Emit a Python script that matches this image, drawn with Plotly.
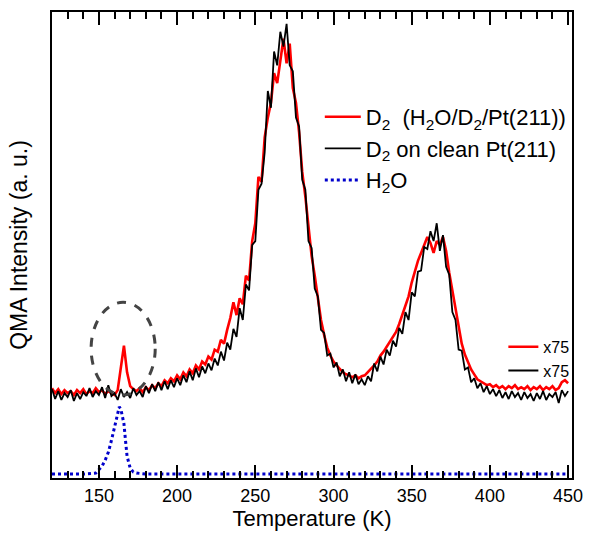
import plotly.graph_objects as go

# Temperature grid (K)
temperature = list(range(120, 452, 2))

# D2 from H2O/D2/Pt(211) (red), arbitrary units
d2_h2o = [91, 86, 90, 85, 89, 86, 88, 84, 89, 86, 90, 85, 88, 86, 91, 87, 89, 85, 88, 86,
          84, 89, 113, 134, 107, 93, 90, 88, 91, 87, 92, 89, 94, 91, 96, 93, 99, 96, 101, 98,
          104, 100, 107, 103, 110, 106, 114, 110, 118, 115, 123, 120, 130, 128, 140, 136, 150, 162, 178, 165,
          182, 176, 205, 200, 240, 258, 305, 300, 345, 365, 380, 410, 400, 425, 445, 420, 440, 395, 380, 350,
          310, 285, 255, 225, 205, 180, 160, 145, 132, 124, 118, 114, 110, 107, 105, 104, 102, 104, 101, 103,
          104, 107, 110, 114, 118, 124, 128, 133, 137, 143, 148, 156, 165, 175, 184, 198, 210, 220, 228, 236,
          244, 238, 228, 240, 236, 244, 230, 208, 190, 170, 150, 136, 125, 118, 110, 105, 100, 98, 96, 94,
          95, 92, 94, 91, 93, 90, 93, 91, 94, 90, 92, 90, 93, 89, 92, 90, 93, 89, 92, 90,
          93, 89, 91, 97, 99, 96]

# D2 on clean Pt(211) (black)
d2_clean = [90, 80, 88, 79, 86, 82, 89, 78, 86, 80, 87, 83, 91, 82, 88, 84, 92, 81, 94, 83,
            86, 79, 90, 82, 87, 81, 91, 84, 88, 82, 93, 86, 95, 88, 97, 89, 98, 90, 99, 92,
            101, 94, 104, 97, 108, 99, 111, 102, 113, 106, 116, 109, 121, 114, 128, 119, 137, 130, 151, 143,
            172, 160, 196, 190, 236, 240, 292, 298, 330, 392, 375, 432, 418, 452, 437, 460, 418, 412, 365, 356,
            302, 292, 240, 233, 192, 184, 150, 147, 124, 126, 112, 117, 103, 110, 98, 107, 96, 105, 95, 100,
            94, 103, 98, 116, 108, 123, 115, 130, 124, 139, 133, 152, 146, 168, 160, 188, 184, 209, 210, 234,
            232, 250, 240, 258, 230, 246, 214, 206, 168, 160, 130, 129, 110, 112, 97, 101, 91, 96, 87, 93,
            85, 90, 83, 89, 81, 87, 80, 88, 82, 86, 79, 87, 81, 85, 78, 86, 80, 88, 79, 85,
            82, 87, 76, 89, 83, 88]

# H2O (blue dotted)
h2o_temperature = [120, 130, 140, 148, 150, 152, 154, 156, 158, 160, 162, 163, 164, 166, 167, 168,
                   170, 172, 174, 180, 200, 250, 300, 350, 400, 450]
h2o = [4, 4, 4, 5, 8, 12, 18, 26, 38, 52, 68, 72, 70, 55, 38, 22,
       10, 6, 5, 4, 4, 4, 4, 4, 4, 4]

x_ticks = [150, 200, 250, 300, 350, 400, 450]

FONT = "Arial, Liberation Sans, sans-serif"

fig = go.Figure()
fig.add_trace(go.Scatter(x=h2o_temperature, y=h2o, mode="lines", name="H<sub>2</sub>O",
                         line=dict(color="#0000CC", width=3, dash="dot"), legendrank=3))
fig.add_trace(go.Scatter(x=temperature, y=d2_h2o, mode="lines",
                         name="D<sub>2</sub>  (H<sub>2</sub>O/D<sub>2</sub>/Pt(211))",
                         line=dict(color="#FF0000", width=2.6), legendrank=1))
fig.add_trace(go.Scatter(x=temperature, y=d2_clean, mode="lines", name="D<sub>2</sub> on clean Pt(211)",
                         line=dict(color="black", width=1.8), legendrank=2))
# scale-factor legend
fig.add_trace(go.Scatter(x=[None], y=[None], mode="lines", name="x75", legend="legend2",
                         line=dict(color="#FF0000", width=2.6), legendrank=1))
fig.add_trace(go.Scatter(x=[None], y=[None], mode="lines", name="x75", legend="legend2",
                         line=dict(color="black", width=1.8), legendrank=2))

# dashed ellipse highlighting the low-temperature feature
fig.add_shape(type="circle", xref="x", yref="y", x0=145, x1=186, y0=84, y1=178,
              line=dict(color="#444444", width=3, dash="dash"))

fig.update_layout(
    width=593, height=534,
    margin=dict(l=52, r=12, t=10, b=52),
    paper_bgcolor="white", plot_bgcolor="white",
    font=dict(family=FONT, size=18, color="black"),
    showlegend=True,
    legend=dict(x=0.515, y=0.82, xanchor="left", yanchor="top", bgcolor="rgba(0,0,0,0)",
                font=dict(size=22), tracegroupgap=0, itemwidth=36),
    legend2=dict(x=0.868, y=0.318, xanchor="left", yanchor="top", bgcolor="rgba(0,0,0,0)",
                 font=dict(size=16), tracegroupgap=0, itemwidth=30),
    xaxis=dict(range=[120, 452.5], tickvals=x_ticks, ticks="inside", ticklen=13, tickwidth=1.5,
               tickcolor="black", showline=True, linecolor="black", linewidth=2, mirror="allticks",
               showgrid=False, zeroline=False, tickfont=dict(size=18),
               minor=dict(dtick=10, ticks="inside", ticklen=7, tickwidth=1.5, tickcolor="black",
                          showgrid=False),
               title=dict(text="Temperature (K)", font=dict(size=22), standoff=3)),
    yaxis=dict(range=[0, 472], showticklabels=False, ticks="", showline=True, linecolor="black",
               linewidth=2, mirror=True, showgrid=False, zeroline=False,
               title=dict(text="QMA Intensity (a. u.)", font=dict(size=23), standoff=16)),
)

fig.write_html("out.html")
